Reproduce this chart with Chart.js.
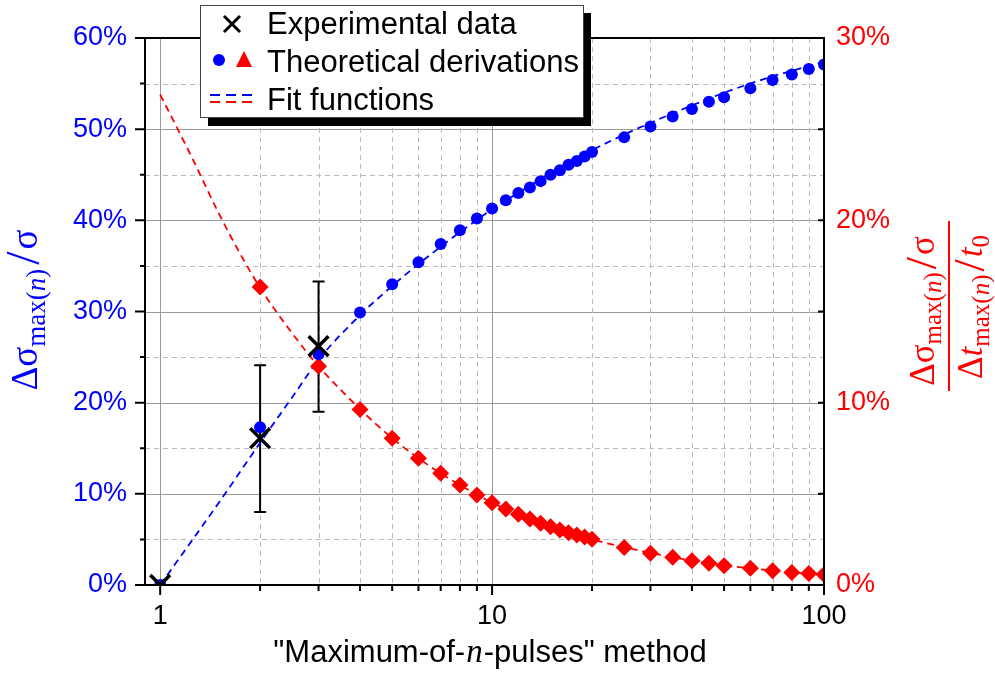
<!DOCTYPE html>
<html><head><meta charset="utf-8">
<script src="https://cdn.jsdelivr.net/npm/chart.js@4.4.0/dist/chart.umd.min.js"></script>
<style>html,body{margin:0;padding:0;background:#fff;}#wrap{width:995px;height:675px;position:relative;}canvas{display:block;}</style>
</head><body><div id="wrap"><canvas id="c" width="995" height="675" style="width:995px;height:675px"></canvas></div>
<script>
// ---- data (percent) ----
const nTheory = [1,2,3,4,5,6,7,8,9,10,11,12,13,14,15,16,17,18,19,20,25,30,35,40,45,50,60,70,80,90,100];
const blueTheory = [0,17.3,25.3,29.9,33.0,35.4,37.4,38.9,40.2,41.3,42.2,43.0,43.6,44.3,45.0,45.5,46.1,46.5,47.0,47.5,49.1,50.3,51.4,52.2,53.0,53.5,54.5,55.4,56.0,56.6,57.1];
const nRed = [2,3,4,5,6,7,8,9,10,11,12,13,14,15,16,17,18,19,20,25,30,35,40,45,50,60,70,80,90,100];
const redTheory = [16.35,12.0,9.63,8.05,6.95,6.13,5.49,4.94,4.51,4.17,3.88,3.62,3.38,3.20,3.02,2.87,2.74,2.63,2.51,2.05,1.74,1.52,1.33,1.19,1.06,0.92,0.78,0.68,0.63,0.58];
const nExp = [1,2,3];
const expValues = [0,16.1,26.2];
const expLow = [0,8.0,19.0];
const expHigh = [0,24.1,33.3];
const nFitBlue = [1,1.5,2,2.5,3,4,5,6,7,8,10,13,16,20,25,30,40,50,60,70,80,100];
const fitBlue = [0,9.0,15.6,20.6,24.7,29.6,32.8,35.2,37.1,38.7,41.2,43.8,45.8,47.7,49.4,50.7,52.6,54.0,55.0,55.8,56.4,57.4];
const nFitRed = [1,1.25,1.5,1.75,2,2.5,3,4,5,6,7,8,10,13,16,20,25,30,40,50,60,70,80,100];
const fitRed = [26.9,23.4,20.4,18.1,16.3,13.8,12.0,9.65,8.05,6.95,6.12,5.48,4.52,3.6,3.0,2.5,2.07,1.76,1.34,1.08,0.91,0.79,0.69,0.57];
const leftTicks = [0,10,20,30,40,50,60];
const rightTicks = [0,10,20,30];
const xTicks = [1,10,100];
const xGridMinor = [2,3,4,5,6,7,8,9,20,30,40,50,60,70,80,90];
const legendLabels = ['Experimental data','Theoretical derivations','Fit functions'];

const BLUE = '#0000ff', RED = '#ff0000';
const pts = (xs, ys) => xs.map((x,i)=>({x, y: ys[i]}));

function drawRich(ctx, segs, x, y, rot) {
  ctx.save(); ctx.translate(x, y); ctx.rotate(rot);
  let w = 0;
  segs.forEach(s => { ctx.font = s.f; s.w = ctx.measureText(s.t).width + (s.sp || 0) + (s.pre || 0); w += s.w; });
  let cx = -w / 2;
  ctx.textBaseline = 'alphabetic'; ctx.textAlign = 'left';
  segs.forEach(s => { ctx.font = s.f; ctx.fillStyle = s.c; ctx.fillText(s.t, cx + (s.pre || 0), s.dy || 0); cx += s.w; });
  ctx.restore();
}

const gridPlugin = {
  id: 'gridPlugin',
  beforeDatasetsDraw(chart) {
    const {ctx, chartArea: a, scales} = chart;
    const x = scales.x, y = scales.y;
    ctx.save();
    for (let v = 5; v < 60; v += 5) {
      const py = Math.round(y.getPixelForValue(v)) + 0.5;
      ctx.beginPath();
      if (v % 10 === 0) { ctx.setLineDash([]); ctx.strokeStyle = '#999'; }
      else { ctx.setLineDash([5,4]); ctx.strokeStyle = '#bbb'; }
      ctx.lineWidth = 1;
      ctx.moveTo(a.left, py); ctx.lineTo(a.right, py); ctx.stroke();
    }
    [1,10].forEach(v => {
      const px = Math.round(x.getPixelForValue(v)) + 0.5;
      ctx.setLineDash([]); ctx.strokeStyle = '#999'; ctx.lineWidth = 1;
      ctx.beginPath(); ctx.moveTo(px, a.top); ctx.lineTo(px, a.bottom); ctx.stroke();
    });
    xGridMinor.forEach(v => {
      const px = Math.round(x.getPixelForValue(v)) + 0.5;
      ctx.setLineDash([5,4]); ctx.strokeStyle = '#bbb'; ctx.lineWidth = 1;
      ctx.beginPath(); ctx.moveTo(px, a.top); ctx.lineTo(px, a.bottom); ctx.stroke();
    });
    ctx.setLineDash([]);
    ctx.strokeStyle = '#000'; ctx.lineWidth = 2;
    nExp.forEach((n, i) => {
      if (expHigh[i] === expLow[i]) return;
      const px = x.getPixelForValue(n);
      const pt = y.getPixelForValue(expHigh[i]), pb = y.getPixelForValue(expLow[i]);
      ctx.beginPath();
      ctx.moveTo(px, pt); ctx.lineTo(px, pb);
      ctx.moveTo(px-6, pt); ctx.lineTo(px+6, pt);
      ctx.moveTo(px-6, pb); ctx.lineTo(px+6, pb);
      ctx.stroke();
    });
    ctx.restore();
  },
  afterDatasetsDraw(chart) {
    const {ctx, chartArea: a, scales} = chart;
    const x = scales.x, y = scales.y;
    ctx.save();
    ctx.strokeStyle = '#000'; ctx.lineWidth = 2; ctx.setLineDash([]);
    ctx.beginPath();
    ctx.rect(a.left, a.top, a.right - a.left, a.bottom - a.top);
    ctx.stroke();
    ctx.beginPath();
    for (let v = 0; v <= 60; v += 5) {
      const py = y.getPixelForValue(v);
      const len = v % 10 === 0 ? 10 : 5;
      ctx.moveTo(a.left - len, py); ctx.lineTo(a.left, py);
      if (v > 0 && v < 60 && v % 10 === 0) { ctx.moveTo(a.right - 6, py); ctx.lineTo(a.right, py); }
    }
    [1,10,100].forEach(v => { const px = x.getPixelForValue(v); ctx.moveTo(px, a.bottom); ctx.lineTo(px, a.bottom + 10); });
    xGridMinor.forEach(v => { const px = x.getPixelForValue(v); ctx.moveTo(px, a.bottom); ctx.lineTo(px, a.bottom + 6); });
    ctx.stroke();
    ctx.restore();
  },
  afterDraw(chart) {
    const ctx = chart.ctx;
    ctx.save();
    ctx.fillStyle = '#000';
    ctx.fillRect(208, 13, 383, 113);
    ctx.fillStyle = '#fff';
    ctx.fillRect(200, 5, 383, 112);
    ctx.strokeStyle = '#444'; ctx.lineWidth = 1;
    ctx.strokeRect(200.5, 5.5, 383, 112);
    ctx.strokeStyle = '#000'; ctx.lineWidth = 3;
    ctx.beginPath();
    ctx.moveTo(224, 16); ctx.lineTo(240, 32); ctx.moveTo(240, 16); ctx.lineTo(224, 32); ctx.stroke();
    ctx.fillStyle = BLUE; ctx.beginPath(); ctx.arc(219, 60, 6, 0, Math.PI*2); ctx.fill();
    ctx.fillStyle = RED; ctx.beginPath(); ctx.moveTo(244, 51); ctx.lineTo(252, 67); ctx.lineTo(236, 67); ctx.closePath(); ctx.fill();
    ctx.lineWidth = 2;
    ctx.setLineDash([10,6]);
    ctx.strokeStyle = BLUE; ctx.beginPath(); ctx.moveTo(210, 95); ctx.lineTo(256, 95); ctx.stroke();
    ctx.strokeStyle = RED; ctx.beginPath(); ctx.moveTo(210, 102); ctx.lineTo(256, 102); ctx.stroke();
    ctx.setLineDash([]);
    ctx.fillStyle = '#000'; ctx.font = '31px "Liberation Sans", Arial, sans-serif';
    ctx.textBaseline = 'alphabetic'; ctx.textAlign = 'left';
    ctx.fillText(legendLabels[0], 267, 34);
    ctx.fillText(legendLabels[1], 267, 72);
    ctx.fillText(legendLabels[2], 267, 110);

    const S = '"Liberation Serif", "Times New Roman", serif';
    const A = '"Liberation Sans", Arial, sans-serif';
    drawRich(ctx, [
      {t:'Δσ', f:'37px '+S, c:BLUE},
      {t:'max(', f:'27px '+S, c:BLUE, dy:8},
      {t:'n', f:'italic 27px '+S, c:BLUE, dy:8},
      {t:')', f:'27px '+S, c:BLUE, dy:8, sp:4},
      {t:'/', f:'48px '+S, c:BLUE, dy:2, sp:2},
      {t:'σ', f:'37px '+S, c:BLUE}
    ], 37, 310, -Math.PI/2);
    drawRich(ctx, [
      {t:'Δσ', f:'35px '+S, c:RED},
      {t:'max(', f:'25px '+S, c:RED, dy:7},
      {t:'n', f:'italic 25px '+S, c:RED, dy:7},
      {t:')', f:'25px '+S, c:RED, dy:7, sp:3},
      {t:'/', f:'44px '+S, c:RED, dy:2, sp:2},
      {t:'σ', f:'35px '+S, c:RED}
    ], 934, 311, -Math.PI/2);
    drawRich(ctx, [
      {t:'Δ', f:'35px '+S, c:RED},
      {t:'t', f:'italic 35px '+S, c:RED},
      {t:'max(', f:'25px '+S, c:RED, dy:7},
      {t:'n', f:'italic 25px '+S, c:RED, dy:7},
      {t:')', f:'25px '+S, c:RED, dy:7, sp:3},
      {t:'/', f:'44px '+S, c:RED, dy:2, sp:2},
      {t:'t', f:'italic 35px '+S, c:RED},
      {t:'0', f:'25px '+S, c:RED, dy:7}
    ], 982, 307, -Math.PI/2);
    ctx.strokeStyle = RED; ctx.lineWidth = 2;
    ctx.beginPath(); ctx.moveTo(949, 221); ctx.lineTo(949, 391); ctx.stroke();
    drawRich(ctx, [
      {t:'"Maximum-of-', f:'31px '+A, c:'#000'},
      {t:'n', f:'italic 33px '+S, c:'#000', pre:1, sp:1},
      {t:'-pulses" method', f:'31px '+A, c:'#000'}
    ], 490, 662, 0);
    ctx.restore();
  }
};

const tickFont = {family: '"Liberation Sans", Arial, sans-serif', size: 27};
new Chart(document.getElementById('c'), {
  type: 'scatter',
  data: {
    datasets: [
      {label: 'exp', data: pts(nExp, expValues), yAxisID: 'y', order: 0, clip: 0,
       pointStyle: 'crossRot', pointRadius: 14, borderColor: '#000', backgroundColor: '#000', pointBorderWidth: 3.5, showLine: false},
      {label: 'blue', data: pts(nTheory, blueTheory), yAxisID: 'y', order: 1, clip: 0,
       pointStyle: 'circle', pointRadius: 6, backgroundColor: BLUE, borderColor: BLUE, pointBorderWidth: 0, showLine: false},
      {label: 'red', data: pts(nRed, redTheory), yAxisID: 'y2', order: 2, clip: 0,
       pointStyle: 'rectRot', pointRadius: 8.5, backgroundColor: RED, borderColor: RED, pointBorderWidth: 0, showLine: false},
      {label: 'fitBlue', data: pts(nFitBlue, fitBlue), yAxisID: 'y', order: 3, clip: 0, showLine: true,
       borderColor: BLUE, borderWidth: 1.8, borderDash: [7,5], pointRadius: 0, cubicInterpolationMode: 'monotone'},
      {label: 'fitRed', data: pts(nFitRed, fitRed), yAxisID: 'y2', order: 4, clip: 0, showLine: true,
       borderColor: RED, borderWidth: 1.8, borderDash: [7,5], pointRadius: 0, cubicInterpolationMode: 'monotone'}
    ]
  },
  options: {
    responsive: false, animation: false, devicePixelRatio: 1,
    layout: {padding: {top: 38, left: 0, right: 0, bottom: 0}},
    plugins: {legend: {display: false}, tooltip: {enabled: false}},
    scales: {
      x: {type: 'logarithmic', min: 0.9, max: 100, position: 'bottom',
          afterBuildTicks: s => { s.ticks = xTicks.map(v => ({value: v})); },
          afterFit: s => { s.height = 90; },
          grid: {display: false, drawTicks: false}, border: {display: false},
          ticks: {autoSkip: false, maxRotation: 0, minRotation: 0, padding: 15, color: '#000', font: tickFont,
                  callback: v => String(v)}},
      y: {type: 'linear', min: 0, max: 60, position: 'left',
          afterBuildTicks: s => { s.ticks = leftTicks.map(v => ({value: v})); },
          afterFit: s => { s.width = 145; },
          grid: {display: false, drawTicks: false}, border: {display: false},
          ticks: {padding: 18, color: BLUE, font: tickFont, callback: v => v + '%'}},
      y2: {type: 'linear', min: 0, max: 30, position: 'right',
          afterBuildTicks: s => { s.ticks = rightTicks.map(v => ({value: v})); },
          afterFit: s => { s.width = 171; },
          grid: {display: false, drawTicks: false}, border: {display: false},
          ticks: {padding: 12, color: RED, font: tickFont, callback: v => v + '%'}}
    }
  },
  plugins: [gridPlugin]
});
</script></body></html>
